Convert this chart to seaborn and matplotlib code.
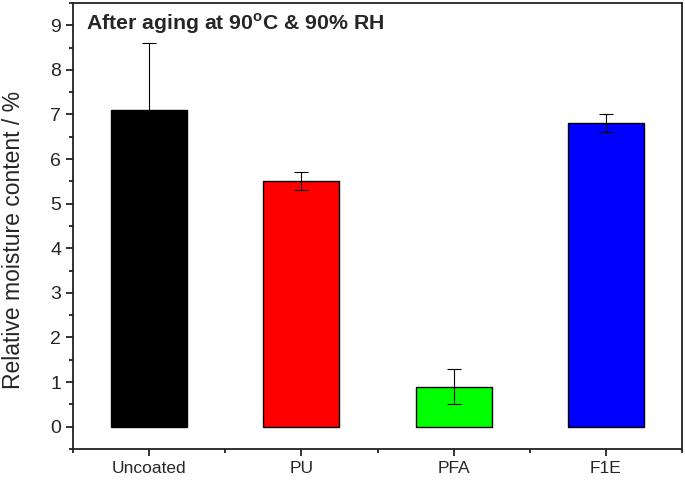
import matplotlib
matplotlib.use('Agg')
import matplotlib.pyplot as plt
import numpy as np
import pandas as pd
import seaborn as sns
from matplotlib.ticker import MultipleLocator, FixedLocator

sns.set_style('ticks')
plt.rcParams.update({'font.family'		: ['Liberation Sans', 'DejaVu Sans'],
					'mathtext.fontset'	: 'custom',
					'mathtext.rm'		: 'Liberation Sans',
					'mathtext.bf'		: 'Liberation Sans:bold',
					'axes.linewidth'	: 1.3})

coatings	= ['Uncoated', 'PU', 'PFA', 'F1E']
moisture	= [7.1, 5.5, 0.9, 6.8]
moisture_err	= [1.5, 0.2, 0.4, 0.2]
colors		= ['#000000', '#ff0000', '#00ff00', '#0000ff']

df = pd.DataFrame({'coating': coatings, 'moisture': moisture, 'err': moisture_err})

fig = plt.figure(figsize=(6.85, 4.8), dpi=100)
ax = fig.add_axes([0.1066, 0.0646, 0.889, 0.9292])

sns.barplot(ax=ax, x='coating', y='moisture', hue='coating', data=df, palette=colors,
			width=0.5, edgecolor='black', linewidth=1.0, saturation=1, legend=False, errorbar=None)
ax.errorbar(np.arange(len(coatings)), df['moisture'], yerr=df['err'], fmt='none',
			ecolor='black', elinewidth=0.8, capsize=5, capthick=0.8)

ax.set_xlim(-0.5, 3.5)
ax.set_ylim(-0.5, 9.5)
ax.yaxis.set_major_locator(MultipleLocator(1))
ax.yaxis.set_minor_locator(MultipleLocator(0.5))
ax.xaxis.set_minor_locator(FixedLocator([-0.5, 0.5, 1.5, 2.5, 3.5]))
ax.set_yticks(range(0, 10))
ax.tick_params(axis='both', which='major', direction='out', length=5, width=1.3, color='#222222')
ax.tick_params(axis='both', which='minor', direction='out', length=3, width=1.3, color='#222222')
ax.tick_params(axis='y', labelsize=14)
ax.tick_params(axis='x', labelsize=12.5)
for s in ax.spines.values():
	s.set_visible(True)
	s.set_color('#222222')

ax.set_xlabel('')
ax.set_ylabel('Relative moisture content / %', fontsize=16.5)
ax.yaxis.set_label_coords(-0.079, 0.469)
ax.text(0.022, 0.982, r'After aging at 90$^{\mathbf{o}}$C & 90% RH', transform=ax.transAxes,
		fontsize=15.3, fontweight='bold', va='top', ha='left')

plt.savefig('out.png', dpi=100)
